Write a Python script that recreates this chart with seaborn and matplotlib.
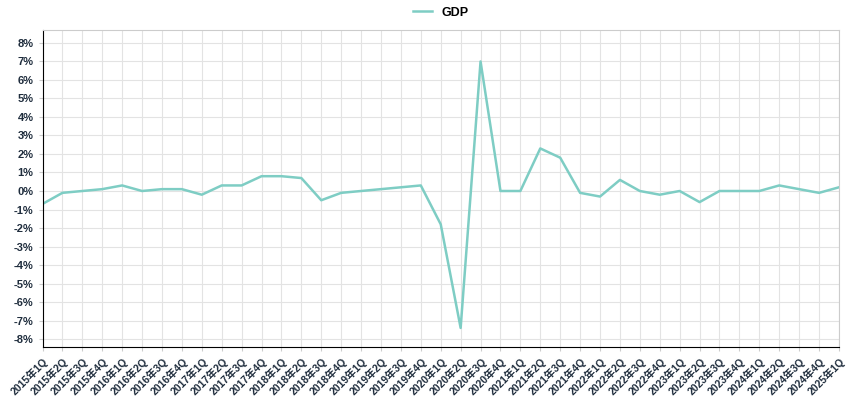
import matplotlib
matplotlib.use("Agg")
import matplotlib.pyplot as plt
import seaborn as sns
import pandas as pd

plt.rcParams["font.family"] = ["Liberation Sans", "Noto Sans CJK SC"]

quarters = [f"{y}年{q}Q" for y in range(2015, 2026) for q in range(1, 5)][:41]
gdp = [-0.7, -0.1, 0.0, 0.1, 0.3, 0.0, 0.1, 0.1, -0.2, 0.3, 0.3, 0.8, 0.8, 0.7,
       -0.5, -0.1, 0.0, 0.1, 0.2, 0.3, -1.8, -7.4, 7.0, 0.0, 0.0, 2.3, 1.8, -0.1,
       -0.3, 0.6, 0.0, -0.2, 0.0, -0.6, 0.0, 0.0, 0.0, 0.3, 0.1, -0.1, 0.2]
yticks = list(range(-8, 9))

df = pd.DataFrame({"quarter": quarters, "GDP": gdp, "x": range(len(quarters))})

fig = plt.figure(figsize=(8.5, 4), dpi=100)
ax = fig.add_axes([0.05, 0.1325, 0.937, 0.7925])
sns.lineplot(data=df, x="x", y="GDP", ax=ax, color="#7ecdc4", linewidth=1.8, label="GDP")
ax.set_xlim(0, len(quarters) - 1)
ax.set_ylim(-8.43, 8.7)
ax.set_yticks(yticks)
ax.set_yticklabels([f"{v}%" for v in yticks], fontsize=8, fontweight="bold", color="#1f2d3d")
ax.set_xticks(range(len(quarters)))
ax.set_xticklabels(quarters, rotation=45, ha="right", rotation_mode="anchor",
                   fontsize=7.5, fontweight="bold", color="#1f2d3d")
ax.grid(True, color="#e3e3e3", linewidth=0.8)
ax.set_axisbelow(True)
ax.set_xlabel("")
ax.set_ylabel("")
for s in ["top", "right"]:
    ax.spines[s].set_color("#cccccc")
for s in ["left", "bottom"]:
    ax.spines[s].set_color("black")
ax.tick_params(length=3, color="#cccccc")
ax.legend(loc="lower center", bbox_to_anchor=(0.5, 1.0), frameon=False,
          prop={"weight": "bold", "size": 9}, handlelength=1.5)
fig.savefig("out.png", dpi=100)
